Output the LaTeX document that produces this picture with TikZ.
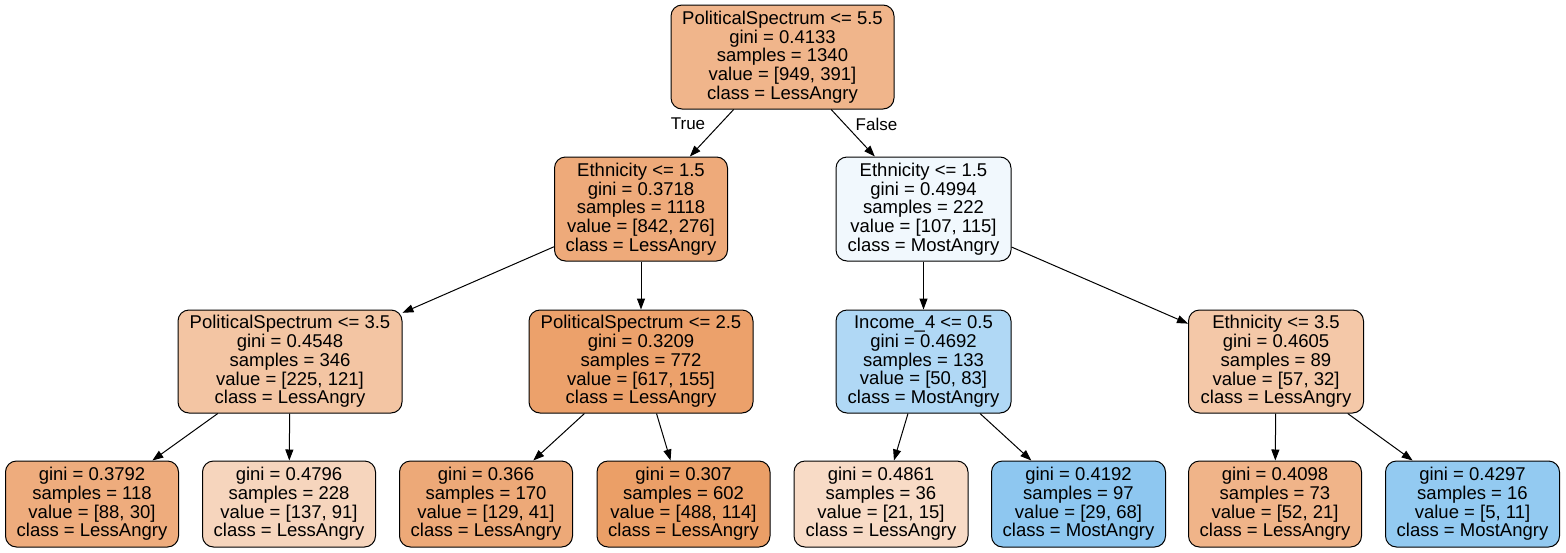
\documentclass[tikz,border=0pt]{standalone}
\usepackage{fontspec}
\setmainfont{Liberation Sans}
\usetikzlibrary{arrows.meta}
\definecolor{c0}{RGB}{240,181,139}
\definecolor{c1}{RGB}{238,170,122}
\definecolor{c2}{RGB}{241,248,253}
\definecolor{c3}{RGB}{243,197,163}
\definecolor{c4}{RGB}{236,161,107}
\definecolor{c5}{RGB}{176,216,245}
\definecolor{c6}{RGB}{244,200,168}
\definecolor{c7}{RGB}{238,172,125}
\definecolor{c8}{RGB}{246,213,189}
\definecolor{c9}{RGB}{237,169,120}
\definecolor{c10}{RGB}{235,159,103}
\definecolor{c11}{RGB}{248,219,198}
\definecolor{c12}{RGB}{142,199,240}
\definecolor{c13}{RGB}{240,180,137}
\definecolor{c14}{RGB}{147,202,241}
\tikzset{
  tbox/.style={draw=black, line width=1pt, rounded corners=11pt, align=center,
    inner sep=0pt, font=\fontsize{18.5}{18.75}\selectfont},
  inner/.style={tbox, minimum height=104pt},
  leaf/.style={tbox, minimum height=86pt},
  conn/.style={line width=1pt, -{Triangle[length=11pt,width=8pt]}},
  elabel/.style={font=\fontsize{17}{20}\selectfont, inner sep=0pt}
}
\begin{document}
\begin{tikzpicture}[x=1pt,y=-1pt]
\useasboundingbox (0,0) rectangle (1566,552);
\node[inner, fill=c0, minimum width=223pt] (n0) at (782.5,57) {PoliticalSpectrum <= 5.5\\gini = 0.4133\\samples = 1340\\value = [949, 391]\\class = LessAngry};
\node[inner, fill=c1, minimum width=173pt] (n1) at (641,209) {Ethnicity <= 1.5\\gini = 0.3718\\samples = 1118\\value = [842, 276]\\class = LessAngry};
\node[inner, fill=c2, minimum width=175pt] (n2) at (923.5,209) {Ethnicity <= 1.5\\gini = 0.4994\\samples = 222\\value = [107, 115]\\class = MostAngry};
\node[inner, fill=c3, minimum width=224pt, minimum height=103pt] (n3) at (290,361.5) {PoliticalSpectrum <= 3.5\\gini = 0.4548\\samples = 346\\value = [225, 121]\\class = LessAngry};
\node[inner, fill=c4, minimum width=224pt, minimum height=103pt] (n4) at (641,361.5) {PoliticalSpectrum <= 2.5\\gini = 0.3209\\samples = 772\\value = [617, 155]\\class = LessAngry};
\node[inner, fill=c5, minimum width=175pt, minimum height=103pt] (n5) at (923.5,361.5) {Income\_4 <= 0.5\\gini = 0.4692\\samples = 133\\value = [50, 83]\\class = MostAngry};
\node[inner, fill=c6, minimum width=175pt, minimum height=103pt] (n6) at (1276,361.5) {Ethnicity <= 3.5\\gini = 0.4605\\samples = 89\\value = [57, 32]\\class = LessAngry};
\node[leaf, fill=c7, minimum width=173pt] (l1) at (92,504) {gini = 0.3792\\samples = 118\\value = [88, 30]\\class = LessAngry};
\node[leaf, fill=c8, minimum width=173pt] (l2) at (289,504) {gini = 0.4796\\samples = 228\\value = [137, 91]\\class = LessAngry};
\node[leaf, fill=c9, minimum width=173pt] (l3) at (486,504) {gini = 0.366\\samples = 170\\value = [129, 41]\\class = LessAngry};
\node[leaf, fill=c10, minimum width=173pt] (l4) at (683.5,504) {gini = 0.307\\samples = 602\\value = [488, 114]\\class = LessAngry};
\node[leaf, fill=c11, minimum width=174pt] (l5) at (881,504) {gini = 0.4861\\samples = 36\\value = [21, 15]\\class = LessAngry};
\node[leaf, fill=c12, minimum width=174pt] (l6) at (1078.5,504) {gini = 0.4192\\samples = 97\\value = [29, 68]\\class = MostAngry};
\node[leaf, fill=c13, minimum width=173pt] (l7) at (1275,504) {gini = 0.4098\\samples = 73\\value = [52, 21]\\class = LessAngry};
\node[leaf, fill=c14, minimum width=174pt] (l8) at (1472.5,504) {gini = 0.4297\\samples = 16\\value = [5, 11]\\class = MostAngry};
\draw[conn] (n0) -- (n1);
\draw[conn] (n0) -- (n2);
\draw[conn] (n1) -- (n3);
\draw[conn] (n1) -- (n4);
\draw[conn] (n2) -- (n5);
\draw[conn] (n2) -- (n6);
\draw[conn] (n3) -- (l1);
\draw[conn] (n3) -- (l2);
\draw[conn] (n4) -- (l3);
\draw[conn] (n4) -- (l4);
\draw[conn] (n5) -- (l5);
\draw[conn] (n5) -- (l6);
\draw[conn] (n6) -- (l7);
\draw[conn] (n6) -- (l8);
\node[elabel] (tlab) at (688,124) {True};
\node[elabel] (flab) at (876.5,124) {False};
\end{tikzpicture}
\end{document}
